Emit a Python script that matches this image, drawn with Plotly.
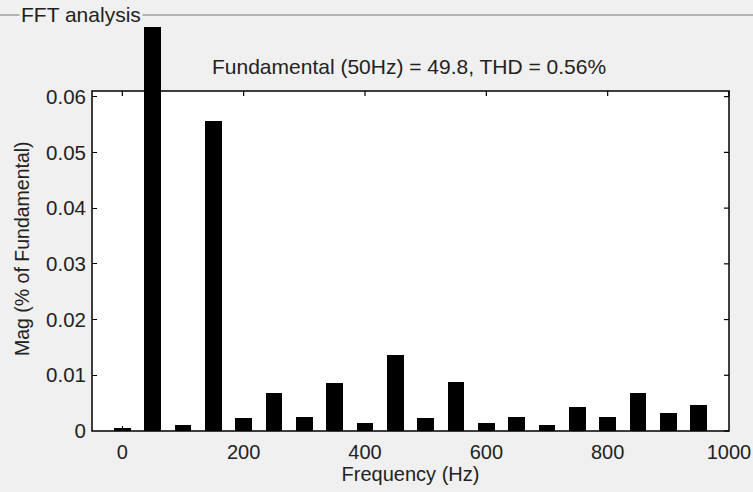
import plotly.graph_objects as go

# ---- data ----
freqs = [0, 50, 100, 150, 200, 250, 300, 350, 400, 450,
         500, 550, 600, 650, 700, 750, 800, 850, 900, 950]
mags = [0.0006, 100.0, 0.0011, 0.0557, 0.0023, 0.0068, 0.0026, 0.0086, 0.0014, 0.0136,
        0.0023, 0.0088, 0.0014, 0.0026, 0.0011, 0.0043, 0.0026, 0.0068, 0.0032, 0.0047]
x_ticks = [0, 200, 400, 600, 800, 1000]
x_tick_labels = ["0", "200", "400", "600", "800", "1000"]
y_ticks = [0, 0.01, 0.02, 0.03, 0.04, 0.05, 0.06]
y_tick_labels = ["0", "0.01", "0.02", "0.03", "0.04", "0.05", "0.06"]
title_text = "Fundamental (50Hz) = 49.8, THD = 0.56%"
panel_text = "FFT analysis"

X_MIN, X_MAX = -50, 1000
Y_MAX = 0.0725        # visible drawing area (bar overflow above the box)
Y_FRAME = 0.061       # top of the axes box

BG = "#f0f0f0"
FONT = "Liberation Sans, Arial, sans-serif"
TXT = "#222222"

fig = go.Figure()
fig.add_trace(go.Bar(x=freqs, y=mags, width=28,
                     marker=dict(color="black", line=dict(width=0))))

def px(v):
    return (v - X_MIN) / (X_MAX - X_MIN)

def py(v):
    return v / Y_MAX

shapes = []
# white axes area
shapes.append(dict(type="rect", xref="paper", yref="paper", x0=0, x1=1, y0=0, y1=py(Y_FRAME),
                   fillcolor="white", line=dict(width=0), layer="below"))
# axes box
shapes.append(dict(type="rect", xref="paper", yref="paper", x0=0, x1=1, y0=0, y1=py(Y_FRAME),
                   fillcolor="rgba(0,0,0,0)", line=dict(color="black", width=1.5), layer="above"))
# top mirrored ticks
for t in x_ticks:
    shapes.append(dict(type="line", xref="paper", yref="paper", x0=px(t), x1=px(t),
                       ysizemode="pixel", yanchor=py(Y_FRAME), y0=0, y1=-5,
                       line=dict(color="black", width=1.2), layer="above"))
# right mirrored ticks
for v in y_ticks:
    shapes.append(dict(type="line", xref="paper", yref="paper", y0=py(v), y1=py(v),
                       xsizemode="pixel", xanchor=1, x0=0, x1=-5,
                       line=dict(color="black", width=1.2), layer="above"))
# panel group line
shapes.append(dict(type="line", xref="paper", yref="paper", x0=-0.2, x1=1.1, y0=1.03, y1=1.03,
                   line=dict(color="#a0a0a0", width=1.5), layer="above"))

annotations = [
    dict(text=title_text, xref="paper", yref="paper", x=0.497, y=1 - (66 - 27) / 404,
         showarrow=False, font=dict(family=FONT, size=21, color=TXT), xanchor="center", yanchor="middle"),
    dict(text=panel_text, xref="paper", yref="paper", x=(19 - 92) / 637, y=1.03,
         showarrow=False, font=dict(family=FONT, size=21, color=TXT), xanchor="left", yanchor="middle",
         bgcolor=BG, borderpad=1),
    dict(text="Mag (% of Fundamental)", xref="paper", yref="paper", x=(22 - 92) / 637,
         y=(431 - 249) / 404,
         textangle=-90, showarrow=False, font=dict(family=FONT, size=19.5, color=TXT),
         xanchor="center", yanchor="middle"),
]

fig.update_layout(
    width=753, height=492,
    margin=dict(l=92, r=24, t=27, b=61),
    paper_bgcolor=BG, plot_bgcolor=BG,
    showlegend=False,
    shapes=shapes,
    annotations=annotations,
    font=dict(family=FONT, size=20, color=TXT),
    xaxis=dict(range=[X_MIN, X_MAX], tickvals=x_ticks, ticktext=x_tick_labels,
               ticks="inside", ticklen=5, tickwidth=1.2, tickcolor="black",
               showline=False, showgrid=False, zeroline=False, automargin=False,
               ticklabelstandoff=7,
               title=dict(text="Frequency (Hz)", standoff=4, font=dict(size=20)),
               tickfont=dict(size=20)),
    yaxis=dict(range=[0, Y_MAX], tickvals=y_ticks, ticktext=y_tick_labels,
               ticks="inside", ticklen=5, tickwidth=1.2, tickcolor="black",
               showline=False, showgrid=False, zeroline=False, automargin=False,
               ticklabelstandoff=5,
               tickfont=dict(size=20.5)),
    bargap=0,
)

fig.write_html("out.html")
